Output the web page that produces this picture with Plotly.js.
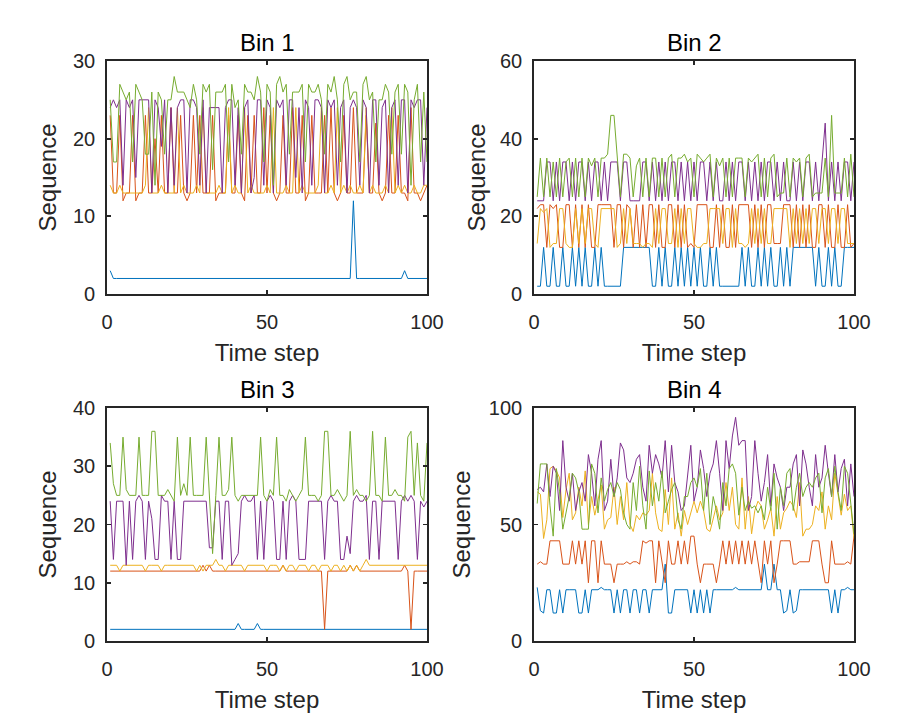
<!DOCTYPE html>
<html>
<head>
<meta charset="utf-8">
<script src="https://cdn.plot.ly/plotly-3.0.1.min.js"></script>
<style>html,body{margin:0;padding:0;background:#fff;}#chart{width:924px;height:726px;}</style>
</head>
<body>
<div id="chart"></div>
<script>
// Time steps
const timeSteps = Array.from({length: 100}, (_, i) => i + 1);
const seriesColors = ['#0072BD', '#D95319', '#EDB120', '#7E2F8E', '#77AC30'];
const binTitles = ['Bin 1', 'Bin 2', 'Bin 3', 'Bin 4'];
const xTickVals = [0, 50, 100];

// ---- Bin 1 ----
const bin1Blue = [3,2,2,2,2,2,2,2,2,2, 2,2,2,2,2,2,2,2,2,2, 2,2,2,2,2,2,2,2,2,2, 2,2,2,2,2,2,2,2,2,2, 2,2,2,2,2,2,2,2,2,2, 2,2,2,2,2,2,2,2,2,2, 2,2,2,2,2,2,2,2,2,2, 2,2,2,2,2,2,12,2,2,2, 2,2,2,2,2,2,2,2,2,2, 2,2,3,2,2,2,2,2,2,2];
const bin1Red = [23,13,13,23,12,13,13,23,12,13, 13,23,13,13,20,13,23,13,13,24, 13,13,23,13,12,13,23,13,23,13, 13,13,23,12,13,13,13,23,13,13, 23,13,12,23,13,23,13,13,24,13, 23,13,12,13,23,13,13,24,13,13, 23,12,13,23,13,13,13,23,13,24, 13,12,13,23,13,13,24,13,13,13, 23,13,13,22,13,12,13,23,13,13, 23,13,13,12,24,13,13,12,13,14];
const bin1Yellow = [14,13,13,14,13,13,13,13,13,13, 13,14,24,13,13,13,14,13,13,13, 13,24,13,14,13,13,13,14,13,24, 13,13,13,13,14,13,13,24,13,14, 13,13,24,13,14,13,13,13,13,14, 13,24,13,13,13,14,13,13,24,13, 14,13,13,13,13,14,24,13,13,14, 13,24,13,14,13,14,13,13,14,13, 24,13,14,13,13,13,14,13,24,13, 14,13,14,13,13,14,13,13,14,14];
const bin1Purple = [24,25,24,25,14,25,24,25,15,25, 25,25,25,13,25,24,19,25,13,24, 14,24,25,25,13,25,25,24,14,25, 13,24,24,24,24,13,24,25,25,14, 24,13,24,25,13,15,25,25,14,25, 24,13,25,24,25,14,25,25,15,24, 13,25,24,14,25,25,24,13,25,24, 25,14,24,25,13,24,25,24,14,25, 24,13,25,25,14,24,25,13,24,25, 14,25,25,13,25,24,25,25,14,24];
const bin1Green = [25,17,17,27,26,25,26,17,27,26, 25,18,18,26,14,26,25,18,25,25, 28,26,26,26,25,24,27,25,18,27, 26,27,16,26,26,26,27,17,27,24, 25,18,27,26,26,25,28,26,17,27, 26,14,27,28,26,27,18,26,26,26, 27,17,27,26,26,27,25,18,27,26, 28,25,17,27,28,25,26,26,17,27, 28,25,26,17,25,25,27,26,18,26, 27,18,27,26,14,25,27,17,26,17];

// ---- Bin 2 ----
const bin2Blue = [2,2,12,2,2,12,2,2,12,2, 2,12,2,12,2,12,2,2,12,2, 12,2,2,2,2,2,2,12,12,12, 12,12,12,12,12,12,2,2,12,2, 12,2,2,12,2,12,2,12,2,12, 2,12,2,2,12,2,12,2,2,2, 2,2,2,2,12,2,12,2,2,12, 2,12,2,12,2,2,12,2,12,2, 12,12,12,12,12,12,12,2,12,2, 2,12,2,12,2,2,12,12,12,12];
const bin2Red = [22,23,23,12,23,22,23,12,12,23, 23,12,23,12,23,12,23,12,12,23, 23,23,23,23,12,23,23,12,23,22, 12,23,12,23,12,23,23,12,23,12, 12,23,23,12,23,12,23,12,13,12, 23,23,23,23,12,12,23,12,23,12, 12,23,12,23,23,23,23,12,23,12, 23,12,23,23,13,13,13,23,23,23, 12,23,12,23,12,23,12,12,23,23, 12,23,12,12,23,12,12,23,12,13];
const bin2Yellow = [13,22,21,22,12,13,13,22,22,13, 12,12,22,13,22,13,22,22,13,12, 22,22,22,22,22,12,13,22,13,22, 13,13,13,12,13,13,12,22,13,22, 22,13,13,22,12,22,13,22,22,13, 12,12,13,13,22,22,22,22,13,22, 22,12,22,13,13,12,13,22,13,22, 13,22,13,13,22,22,22,22,22,12, 22,13,22,13,22,13,22,22,13,22, 22,13,22,22,13,22,22,13,13,13];
const bin2Purple = [24,24,24,34,34,24,34,24,34,34, 24,34,24,34,34,24,34,24,34,34, 24,34,24,34,34,34,24,34,34,24, 24,24,24,34,34,24,34,24,34,24, 34,24,34,34,24,34,24,34,24,34, 24,34,34,24,34,24,34,24,24,34, 24,34,24,34,34,24,34,24,34,24, 34,24,34,34,24,34,24,34,24,24, 34,24,34,24,34,34,24,34,24,34, 44,24,34,24,34,24,34,34,24,34];
const bin2Green = [25,35,25,35,25,34,25,35,25,34, 35,25,35,25,35,25,35,33,35,25, 35,35,36,46,46,35,25,36,36,35, 25,33,35,25,35,25,35,35,25,35, 25,35,36,25,35,35,36,34,35,25, 36,35,34,35,36,25,35,33,35,25, 35,25,35,35,35,25,35,34,35,36, 25,35,25,35,36,25,26,26,35,25, 35,34,35,25,35,36,25,26,26,26, 35,25,46,26,26,26,35,25,36,25];

// ---- Bin 3 ----
const bin3Blue = [2,2,2,2,2,2,2,2,2,2, 2,2,2,2,2,2,2,2,2,2, 2,2,2,2,2,2,2,2,2,2, 2,2,2,2,2,2,2,2,2,2, 3,2,2,2,2,2,3,2,2,2, 2,2,2,2,2,2,2,2,2,2, 2,2,2,2,2,2,2,2,2,2, 2,2,2,2,2,2,2,2,2,2, 2,2,2,2,2,2,2,2,2,2, 2,2,2,2,2,2,2,2,2,2];
const bin3Red = [12,12,12,12,12,12,12,12,12,12, 12,12,12,12,12,12,12,12,12,12, 12,12,12,12,12,12,12,12,12,13, 12,13,12,12,12,12,12,12,12,12, 12,12,12,12,12,12,12,12,12,12, 12,12,12,12,13,12,12,12,12,12, 12,12,12,12,12,12,12,2,12,12, 12,12,12,12,12,13,12,13,12,12, 12,12,12,12,12,12,12,12,12,12, 12,12,13,12,2,12,12,12,12,12];
const bin3Yellow = [13,13,13,12,13,13,13,13,13,13, 13,12,13,13,13,13,12,13,13,13, 13,13,13,13,13,13,13,12,13,12, 13,13,13,14,13,13,12,13,13,13, 13,13,12,13,13,13,13,13,13,12, 13,13,13,12,13,12,13,13,12,13, 13,13,12,13,13,12,13,13,13,12, 13,13,12,13,12,13,12,13,12,13, 14,13,13,13,13,13,13,13,13,13, 13,13,13,13,13,13,13,13,13,13];
const bin3Purple = [24,14,24,24,24,13,24,14,24,25, 24,14,24,21,14,14,25,24,24,14, 24,14,14,24,24,24,24,24,24,24, 24,16,16,24,24,14,24,24,13,14, 15,24,25,24,24,25,14,24,14,24, 25,24,14,14,24,14,24,25,24,14, 14,14,24,24,24,24,24,14,24,25, 24,24,14,14,18,15,24,25,24,24, 25,14,24,24,14,24,24,24,24,24, 14,24,25,24,25,24,14,24,23,24];
const bin3Green = [34,27,25,25,35,26,25,25,25,35, 25,25,25,36,36,25,25,25,26,25, 24,35,25,27,25,35,25,25,25,25, 35,25,15,25,35,25,25,26,35,25, 24,25,25,25,25,25,25,35,25,24, 26,25,35,25,25,24,26,25,24,25, 26,35,25,25,25,24,25,36,36,25, 25,26,25,24,25,36,25,26,25,25, 24,25,36,25,25,24,35,25,25,26, 25,25,24,35,36,25,34,25,24,34];

// ---- Bin 4 ----
const bin4Blue = [23,13,12,22,22,12,12,22,12,22, 22,22,22,12,12,22,12,22,22,22, 23,22,22,22,12,22,12,22,22,12, 22,22,12,22,22,12,22,22,22,22, 33,12,12,22,22,22,22,22,12,22, 12,22,12,22,12,22,22,22,22,22, 22,22,23,22,22,22,22,22,22,22, 22,33,22,22,33,22,22,12,13,22, 12,13,22,22,22,22,22,22,22,22, 22,22,12,22,12,22,22,23,22,22];
const bin4Red = [33,34,33,33,43,43,43,43,33,33, 33,43,33,43,33,43,25,43,43,25, 43,33,33,33,25,33,33,33,34,33, 34,34,33,43,42,43,43,25,43,33, 25,43,33,33,43,33,43,33,45,45, 33,25,33,33,33,33,25,33,43,33, 43,33,43,33,43,33,43,33,43,33, 25,43,33,43,25,33,43,43,43,43, 33,33,34,34,34,34,43,43,43,33, 25,25,43,33,33,33,33,34,33,45];
const bin4Yellow = [64,63,44,52,74,75,73,70,53,65, 72,52,55,66,58,73,50,62,54,60, 67,48,52,53,66,50,62,52,68,50, 47,54,52,55,54,56,72,55,48,47, 65,50,70,48,55,45,56,50,55,60, 55,60,56,48,47,53,58,52,55,68, 56,66,50,48,70,48,62,46,56,60, 58,48,52,57,45,62,48,55,57,60, 58,53,68,45,48,48,50,58,56,64, 48,58,52,72,62,54,63,56,58,44];
const bin4Purple = [65,66,64,76,62,75,72,56,86,66, 60,72,56,64,68,60,80,72,58,78, 86,56,60,78,62,70,85,82,70,68, 72,78,80,66,60,84,72,80,76,70, 86,64,84,68,64,56,58,70,84,60, 66,82,74,62,72,76,86,72,56,86, 74,88,96,84,86,86,56,62,86,72, 60,68,80,58,76,70,66,56,66,66, 76,80,58,82,76,66,58,80,66,70, 84,72,62,80,64,74,78,58,76,62];
const bin4Green = [59,76,76,76,58,45,74,64,48,55, 62,72,70,64,48,48,48,76,72,55, 70,60,65,68,62,68,65,55,50,48, 68,56,75,58,48,73,58,68,60,73, 55,60,65,68,52,48,62,62,68,70, 66,74,56,72,50,62,56,48,68,58, 74,76,72,54,66,56,60,57,58,55, 58,52,66,56,72,48,66,58,72,74, 56,66,72,62,66,68,66,70,72,55, 70,74,62,75,64,56,75,72,58,46];

const bins = [
  [bin1Blue, bin1Red, bin1Yellow, bin1Purple, bin1Green],
  [bin2Blue, bin2Red, bin2Yellow, bin2Purple, bin2Green],
  [bin3Blue, bin3Red, bin3Yellow, bin3Purple, bin3Green],
  [bin4Blue, bin4Red, bin4Yellow, bin4Purple, bin4Green]
];
const yRanges = [[0, 30], [0, 60], [0, 40], [0, 100]];
const yDticks = [10, 20, 10, 50];
const yTitleStandoff = [9, 7, 9, 11];

const W = 924, H = 726;
const xDomains = [[107 / W, 427 / W], [534 / W, 854 / W]];
const yDomains = [[1 - 294 / H, 1 - 61 / H], [1 - 641 / H, 1 - 408 / H]];

const traces = [];
const layout = {
  width: W, height: H,
  margin: {l: 0, r: 0, t: 0, b: 0},
  paper_bgcolor: '#ffffff', plot_bgcolor: '#ffffff',
  showlegend: false,
  font: {family: '"Liberation Sans", Arial, Helvetica, sans-serif', color: '#262626', size: 20},
  annotations: []
};

bins.forEach((series, b) => {
  const idx = b + 1;
  const xa = idx === 1 ? 'x' : 'x' + idx;
  const ya = idx === 1 ? 'y' : 'y' + idx;
  series.forEach((vals, s) => {
    traces.push({
      x: timeSteps, y: vals, type: 'scatter', mode: 'lines',
      xaxis: xa, yaxis: ya,
      line: {color: seriesColors[s], width: 1},
      hoverinfo: 'skip'
    });
  });
  const col = b % 2, row = Math.floor(b / 2);
  const axCommon = {
    showgrid: false, zeroline: false, showline: true, mirror: 'ticks',
    linecolor: '#262626', linewidth: 1.8, ticks: 'inside', ticklen: 4,
    tickwidth: 1.8, tickcolor: '#262626',
    tickfont: {size: 20, color: '#262626'}
  };
  layout['xaxis' + (idx === 1 ? '' : idx)] = Object.assign({}, axCommon, {
    domain: xDomains[col], anchor: ya, range: [0, 100],
    tickmode: 'array', tickvals: xTickVals, ticklabelstandoff: 9,
    title: {text: 'Time step', font: {size: 24, color: '#262626'}, standoff: 12}
  });
  layout['yaxis' + (idx === 1 ? '' : idx)] = Object.assign({}, axCommon, {
    domain: yDomains[row], anchor: xa, range: yRanges[b],
    dtick: yDticks[b], tick0: 0, ticklabelstandoff: 6,
    title: {text: 'Sequence', font: {size: 24, color: '#262626'}, standoff: yTitleStandoff[b]}
  });
  layout.annotations.push({
    text: binTitles[b], xref: xa + ' domain', yref: ya + ' domain',
    x: 0.5, y: 1, xanchor: 'center', yanchor: 'bottom', yshift: 3,
    showarrow: false, font: {size: 24, color: '#000000'}
  });
});

Plotly.newPlot('chart', traces, layout, {displayModeBar: false, staticPlot: true});
</script>
</body>
</html>
